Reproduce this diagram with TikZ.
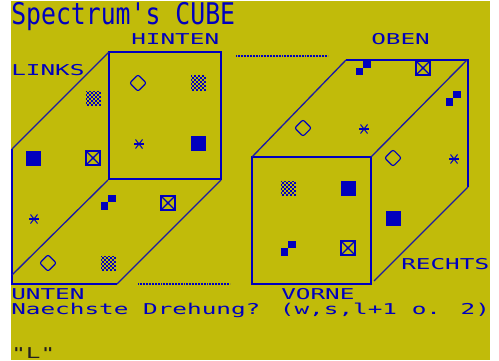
\documentclass[tikz,border=0pt]{standalone}
\usepackage{fontspec}
\usetikzlibrary{positioning}
\newfontfamily\zxfont[FakeStretch=1.63]{DejaVu Sans Mono}
\newfontfamily\zxtall[FakeStretch=0.83]{DejaVu Sans Mono}
\definecolor{zxyellow}{RGB}{193, 187, 10}
\definecolor{zxblue}{RGB}{0, 0, 190}
\definecolor{zxdark}{RGB}{35, 31, 32}
\begin{document}
\begin{tikzpicture}[x=0.75pt, y=-0.75pt,
        lbl/.style={font=\zxfont\fontsize{11.2}{12}\selectfont, text=zxblue, anchor=base west, inner sep=0pt},
        edge/.style={zxblue, line width=1.1pt},
        slant/.style={zxblue!85!zxyellow, line width=1pt},
        rule/.style={zxblue, line width=0.9pt, dash pattern=on 0.75pt off 0.4pt},
        sym/.style={minimum size=11.25pt, inner sep=0pt, outer sep=0pt},
        full/.style={sym, fill=zxblue},
        boxed/.style={sym, draw=zxblue, line width=1.5pt, minimum size=9.8pt,
          path picture={
            \draw[zxblue, line width=0.9pt] (path picture bounding box.south west) -- (path picture bounding box.north east);
            \draw[zxblue, line width=0.9pt] (path picture bounding box.north west) -- (path picture bounding box.south east);
            \fill[zxblue] (path picture bounding box.center) circle (1.3pt);
          }},
        rhomb/.style={sym, draw=zxblue, line width=0.85pt, rounded corners=1.5pt, rotate=45, minimum size=8.8pt},
        grain/.pic={
          \foreach \i in {0,...,7}{
            \foreach \j in {0,...,7}{
              \pgfmathparse{int(mod(\i+\j,2))}
              \ifnum\pgfmathresult=0
                \fill[zxblue] (-7.5+\i*1.875,-7.5+\j*1.875) rectangle ++(1.875,1.875);
              \fi
            }
          }
        },
        aster/.pic={
          \draw[zxblue, line width=0.95pt] (-5,0) -- (5,0);
          \draw[zxblue, line width=0.75pt] (-3.5,-4.5) -- (3.5,4.5);
          \draw[zxblue, line width=0.75pt] (-3.5,4.5) -- (3.5,-4.5);
        }
      ]
        % Screen
        \fill[white] (0,0) rectangle (499,360);
        \fill[zxyellow] (11,1) rectangle (490,360);

        % Texts
        \node[lbl, font=\zxtall\fontsize{22.4}{24}\selectfont] (title) at (11,25) {Spectrum's CUBE};
        \node[lbl] (hinten) at (131,45) {HINTEN};
        \node[lbl] (oben) at (371,45) {OBEN};
        \node[lbl] (links) at (11,75) {LINKS};
        \node[lbl] (rechts) at (401,269) {RECHTS};
        \node[lbl] (unten) at (11,299) {UNTEN};
        \node[lbl] (vorne) at (281,299) {VORNE};
        \node[lbl] (frage) at (11,314) {Naechste Drehung? (w,s,l+1 o. 2)};
        \node[lbl, text=zxdark] (taste) at (11,358) {"L"};

        % Left cube
        \draw[edge] (109,52) rectangle (221,179);
        \draw[edge] (12,149) -- (12,284) -- (117,284);
        \draw[slant] (109,52) -- (12,149);
        \draw[slant] (117,284) -- (221,180);
        \draw[slant] (12,275) -- (108,180);
        \draw[rule] (236,56) -- (328,56);
        \draw[rule] (138,284) -- (230,284);

        % Right cube
        \draw[edge] (252,157) rectangle (371,284);
        \draw[edge] (346,60) -- (468,60) -- (468,187);
        \draw[slant] (252,157) -- (346,60);
        \draw[slant] (371,157) -- (467,60);
        \draw[slant] (468,187) -- (374,281);

        % Symbols
        \foreach \x/\y in {33/158, 198/143, 348/188, 393/218}{
          \node[full] at (\x,\y) {};
        }
        \foreach \x/\y in {198/83, 93/98, 108/263, 288/188}{
          \pic at (\x,\y) {grain};
        }
        \foreach \x/\y in {93/158, 168/203, 423/68, 348/248}{
          \node[boxed] at (\x,\y) {};
        }
        \foreach \x/\y in {138/83, 48/263, 303/128, 393/158}{
          \node[rhomb] at (\x,\y) {};
        }
        \foreach \x/\y in {139/144, 34/219, 364/129, 454/159}{
          \pic at (\x,\y) {aster};
        }
        \foreach \x/\y in {108/202, 363/68, 453/98, 288/248}{
          \fill[zxblue] (\x,\y) rectangle ++(7.5,-7.5);
          \fill[zxblue] (\x,\y) rectangle ++(-7.5,7.5);
        }
      \end{tikzpicture}
\end{document}
